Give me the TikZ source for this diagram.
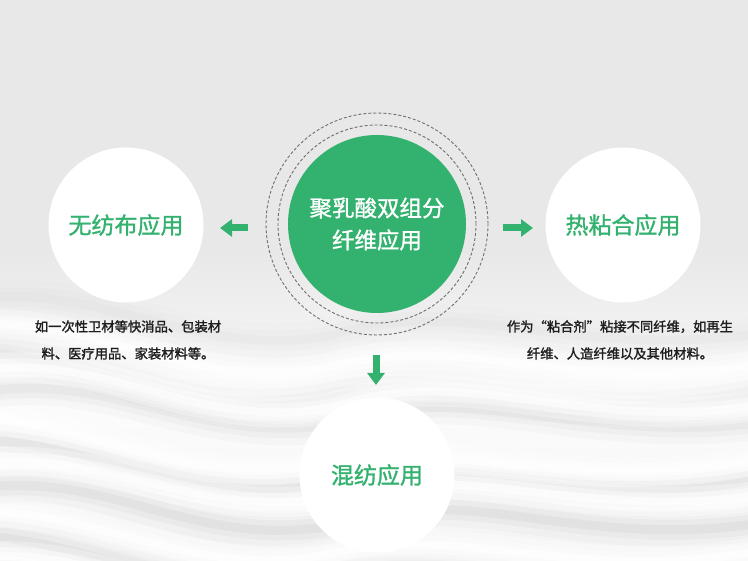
\documentclass[tikz,border=0pt]{standalone}
\usepackage{fontspec}
\newfontfamily\cjk{Noto Sans CJK SC}
\newfontfamily\cjkm[FakeBold=1.2]{Noto Sans CJK SC}
\newfontfamily\cjkd[FakeBold=1.6]{Noto Sans CJK SC}
\usetikzlibrary{arrows.meta}
\definecolor{bgtop}{HTML}{E8E8E8}
\definecolor{bgbot}{HTML}{F4F4F4}
\definecolor{grn}{HTML}{33B16E}
\definecolor{txt}{HTML}{1E1E1E}
\definecolor{ringc}{HTML}{6E6E6E}
\definecolor{shadowc}{HTML}{BDBDBD}
\begin{document}
\begin{tikzpicture}[x=1pt,y=-1pt,
  whitecirc/.style={circle, fill=white, minimum size=155pt, inner sep=0pt, text=grn,
    font=\cjkm\fontsize{23}{26}\selectfont},
  greencirc/.style={circle, fill=grn, minimum size=178pt, inner sep=0pt, text=white,
    align=center, font=\cjkm\fontsize{22.5}{32}\selectfont},
  ringline/.style={draw=ringc, line width=0.9pt, dash pattern=on 3pt off 2pt},
  desc/.style={text=txt, align=center, font=\cjkd\fontsize{13.3}{27}\selectfont, inner sep=0pt},
  blockarrow/.style={draw=grn, line width=7pt, -{Triangle[length=12pt,width=17pt]}},
  streakgray/.style={draw=shadowc, line cap=round},
  streakwhite/.style={draw=white, line cap=round}
]
\useasboundingbox (0,0) rectangle (748,561);
% background
\fill[bgtop] (0,0) rectangle (748,561);
\shade[top color=bgtop, bottom color=bgbot, middle color=white!85!bgtop] (0,250) rectangle (748,561);
% wave streaks (soft)
\foreach \y/\a/\b/\op in {300/20/60/0.05, 350/-10/80/0.08, 395/30/50/0.10, 440/0/70/0.11, 490/25/60/0.12, 535/-5/75/0.12, 580/20/60/0.10}{
  \foreach \w/\o in {34/0.3, 20/0.45, 9/0.6}{
    \draw[streakgray, line width=\w pt, opacity=\op*\o*2.2]
      (-30,\y) .. controls (100,\y-\a) and (190,\y+\b) .. (330,\y+\b*0.6)
      .. controls (470,\y+\b*0.2-\a) and (580,\y+\b*1.1) .. (780,\y+\b*0.5);
  }
}
\foreach \y/\a/\b in {325/10/70, 372/25/60, 418/-5/75, 465/20/55, 512/5/70, 558/15/65}{
  \foreach \w/\o in {30/0.3, 18/0.4, 8/0.6}{
    \draw[streakwhite, line width=\w pt, opacity=\o]
      (-30,\y) .. controls (100,\y-\a) and (190,\y+\b) .. (330,\y+\b*0.6)
      .. controls (470,\y+\b*0.2-\a) and (580,\y+\b*1.1) .. (780,\y+\b*0.5);
  }
}
% circles
\node[whitecirc] (left) at (126,225) {无纺布应用};
\node[whitecirc] (right) at (623,225) {热粘合应用};
\node[whitecirc] (bottom) at (377,475) {混纺应用};
\draw[ringline] (377,224) circle[radius=111pt];
\draw[ringline] (377,224) circle[radius=99pt];
\node[greencirc] (center) at (377,224) {聚乳酸双组分\\纤维应用};
% descriptions
\node[desc] (ldesc) at (128,340) {如一次性卫材等快消品、包装材\\料、医疗用品、家装材料等。};
\node[desc] (rdesc) at (620,340) {作为“粘合剂”粘接不同纤维，如再生\\纤维、人造纤维以及其他材料。};
% arrows
\coordinate (la1) at (248,228); \coordinate (la2) at (220,228);
\coordinate (ra1) at (503,228); \coordinate (ra2) at (533,228);
\coordinate (da1) at (376,355); \coordinate (da2) at (376,385);
\draw[blockarrow] (la1) -- (la2);
\draw[blockarrow] (ra1) -- (ra2);
\draw[blockarrow] (da1) -- (da2);
\end{tikzpicture}
\end{document}
